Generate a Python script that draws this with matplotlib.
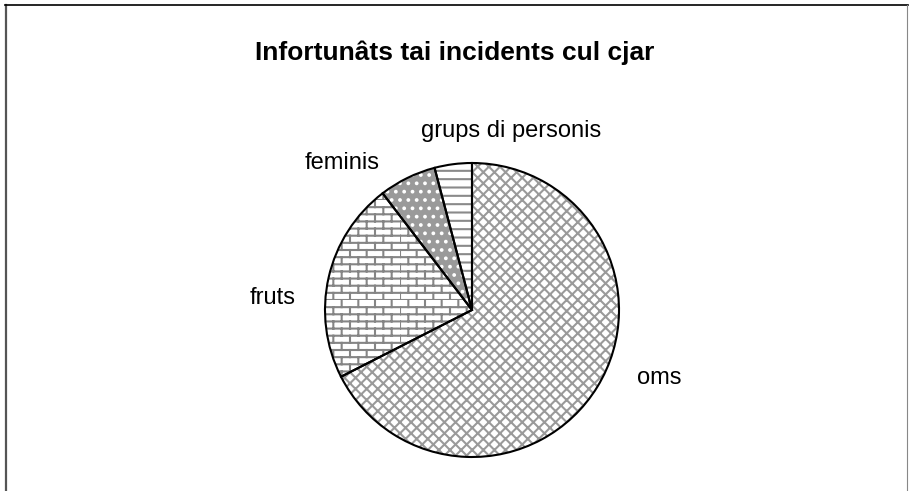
import warnings
warnings.filterwarnings("ignore")
import numpy as np
import matplotlib
matplotlib.use("Agg")
import matplotlib.pyplot as plt
import matplotlib.hatch as mhatch
from matplotlib.path import Path
from matplotlib.lines import Line2D

# ---- data ----
categories = ["oms", "fruts", "feminis", "grups di personis"]
values = [67.5, 22.1, 6.3, 4.1]
title = "Infortunâts tai incidents cul cjar"


# ---- custom brick hatch ----
class BrickHatch(mhatch.HatchPatternBase):
    def __init__(self, hatch, density):
        c = hatch.count('b')
        self.rows = c * 7
        self.cols = c * 3
        self.num_vertices = 2 * (self.rows + self.rows * self.cols) if c else 0

    def set_vertices_and_codes(self, vertices, codes):
        i = 0
        for k in range(self.rows):
            y0 = k / self.rows
            y1 = (k + 1) / self.rows
            vertices[i] = (0.0, y0); vertices[i + 1] = (1.0, y0)
            codes[i] = Path.MOVETO; codes[i + 1] = Path.LINETO
            i += 2
            off = 0.5 * (k % 2)
            for j in range(self.cols):
                x = (j + off) / self.cols
                vertices[i] = (x, y0); vertices[i + 1] = (x, y1)
                codes[i] = Path.MOVETO; codes[i + 1] = Path.LINETO
                i += 2


mhatch._hatch_types.append(BrickHatch)

plt.rcParams['font.family'] = ['Liberation Sans', 'DejaVu Sans']
plt.rcParams['hatch.linewidth'] = 1.5

W, H = 912, 491
fig = plt.figure(figsize=(W / 100, H / 100), dpi=100)
ax = fig.add_axes([0, 0, 1, 1])
ax.set_xlim(0, W)
ax.set_ylim(0, H)
ax.axis('off')

cx, cy, r = 472, H - 310, 147

face_colors = ['white', 'white', '#9a9a9a', 'white']
hatch_colors = ['#9a9a9a', '#858585', 'white', '#8a8a8a']
hatches = ['xxx', 'bb', '..', '--']

wedges, _ = ax.pie(values, startangle=90, counterclock=False,
                   center=(cx, cy), radius=r, frame=True,
                   wedgeprops=dict(linewidth=0))
for w, fc, hc, ht in zip(wedges, face_colors, hatch_colors, hatches):
    w.set_facecolor(fc)
    w.set_edgecolor(hc)
    w.set_hatch(ht)
    w.set_linewidth(0)

ax.pie(values, startangle=90, counterclock=False, center=(cx, cy), radius=r,
       frame=True,
       wedgeprops=dict(facecolor='none', edgecolor='black', linewidth=1.5))

ax.set_xlim(0, W)
ax.set_ylim(0, H)
ax.set_aspect('auto')
ax.axis('off')

label_pos = [(637, 378), (250, 298), (305, 163), (421, 131)]
for name, (x, y) in zip(categories, label_pos):
    ax.text(x, H - y, name, fontsize=17, ha='left', va='center', color='black')

ax.text(455, H - 53, title, fontsize=19, fontweight='bold', ha='center',
        va='center', color='black')

# outer frame
fig.add_artist(Line2D([6 / W, 6 / W], [0, 1 - 4.5 / H], transform=fig.transFigure,
                      color='#555555', lw=1.6))
fig.add_artist(Line2D([5 / W, 908 / W], [1 - 4.5 / H, 1 - 4.5 / H],
                      transform=fig.transFigure, color='black', lw=1.2))
fig.add_artist(Line2D([907 / W, 907 / W], [0, 1 - 4.5 / H], transform=fig.transFigure,
                      color='#888888', lw=0.8))

fig.savefig("out.png", dpi=100)
